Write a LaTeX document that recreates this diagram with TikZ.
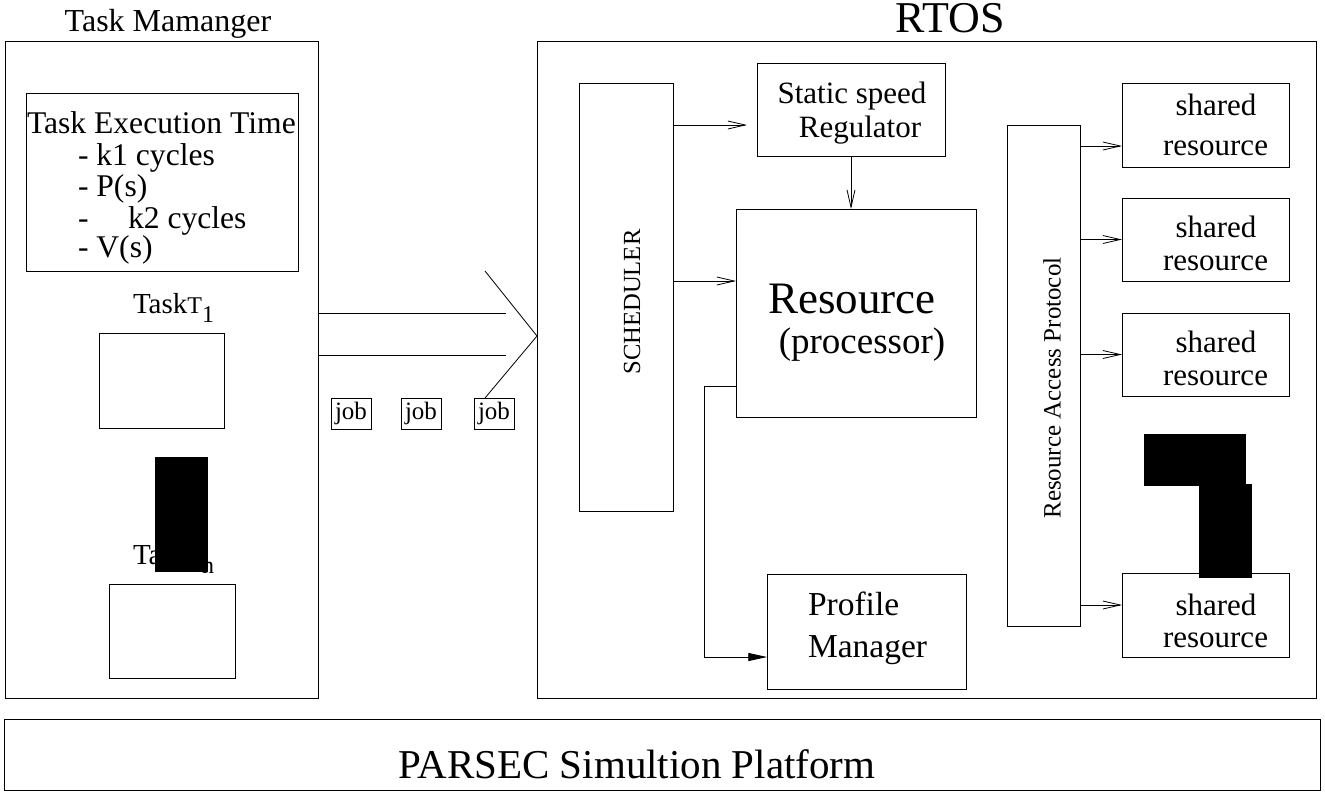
\documentclass[tikz,border=0pt]{standalone}
\usepackage{fontspec}
\setmainfont{Liberation Serif}
\usetikzlibrary{arrows.meta}
\newcommand\fpx[1]{\fontsize{\fpeval{#1*0.75}pt}{\fpeval{#1*0.9}pt}\selectfont}
\newcommand\bxn[6]{\node[box, minimum width={(#4-#2)*0.75pt}, minimum height={(#5-#3)*0.75pt}] (#1) at ({(#2+#4)/2},{(#3+#5)/2}) {#6};}
\tikzset{
  box/.style={draw, line width=0.6pt, inner sep=0pt, outer sep=0pt},
  lbl/.style={inner sep=0pt, outer sep=0pt, anchor=base},
  lblw/.style={inner sep=0pt, outer sep=0pt, anchor=base west},
  oa/.style={line width=0.6pt, -{Straight Barb[length=13pt,width=6pt,line width=0.6pt]}},
  fa/.style={line width=0.6pt, -{Triangle[length=14pt,width=6pt]}},
  ln/.style={line width=0.6pt},
  jobbox/.style={draw, line width=0.6pt, inner sep=0pt, outer sep=0pt, minimum width=30pt, minimum height=23.25pt, font=\fpx{25}}
}
\begin{document}
\begin{tikzpicture}[x=0.75pt, y=-0.75pt]
\useasboundingbox (0,0) rectangle (1325,794);
% titles
\node[lbl] (tmtitle) at (168,31) {\fpx{32}Task Mamanger};
\node[lbl] (rtostitle) at (950,32) {\fpx{44}RTOS};
% main boxes
\bxn{tm}{5}{41}{318}{698}{}
\bxn{rtos}{537}{41}{1316}{698}{}
\bxn{parsec}{4}{719}{1320}{790}{}
\node[lbl] (parsectext) at (637,778) {\fpx{41}PARSEC Simultion Platform};
% task manager content
\bxn{tet}{26}{93}{298}{271}{}
\node[lblw] (tet0) at (27,133) {\fpx{31.6}Task Execution Time};
\node[lblw] (tet1) at (78,165) {\fpx{31.6}- k1 cycles};
\node[lblw] (tet2) at (78,196) {\fpx{31.6}- P(s)};
\node[lblw] (tet3) at (78,228) {\fpx{31.6}-};
\node[lblw] (tet3b) at (128,228) {\fpx{31.6}k2 cycles};
\node[lblw] (tet4) at (78,257) {\fpx{31.6}- V(s)};
\node[lblw] (t1lab) at (133,313) {\fpx{29}Task\fpx{24}T\raisebox{-6.75pt}{\fpx{24}1}};
\bxn{t1}{99}{333}{224}{428}{}
\node[lblw] (tnlab) at (133,564) {\fpx{29}Task\fpx{24}T\raisebox{-6.75pt}{\fpx{24}n}};
\bxn{tn}{109}{584}{235}{678}{}
\bxn{blackA}{155}{457}{207}{571}{}
\fill[black] (blackA.south west) rectangle (blackA.north east);
% job flow
\coordinate (l1e) at (506,313);
\coordinate (l2e) at (506,355);
\draw[ln] (l1e -| tm.east) -- (l1e);
\draw[ln] (l2e -| tm.east) -- (l2e);
\node[jobbox] (job1) at (351,413.5) {job};
\node[jobbox] (job2) at (421,413.5) {job};
\node[jobbox] (job3) at (494,413.5) {job};
\coordinate (chA) at (485,271);
\coordinate (chB) at (537,336);
\coordinate (chC) at (485,398);
\draw[ln] (chA) -- (chB -| rtos.west) -- (chC);
% RTOS content
\bxn{sched}{579}{83}{673}{511}{}
\node[inner sep=0pt, rotate=90] (schedtext) at (632,302) {\fpx{24.6}SCHEDULER};
\bxn{reg}{757}{63}{945}{156}{}
\node[lbl] (reg1) at (852,103) {\fpx{31}Static speed};
\node[lbl] (reg2) at (860,137) {\fpx{31}Regulator};
\bxn{res}{736}{209}{976}{417}{}
\node[lbl] (res1) at (852,313) {\fpx{45}Resource};
\node[lbl] (res2) at (862,353) {\fpx{37}(processor)};
\bxn{pm}{767}{574}{966}{689}{}
\node[lblw] (pm1) at (808,615) {\fpx{33.5}Profile};
\node[lblw] (pm2) at (808,657) {\fpx{33.5}Manager};
\coordinate (srend) at (747,125);
\draw[oa] (srend -| sched.east) -- (srend);
\coordinate (resin) at (736,281);
\draw[oa] (resin -| sched.east) -- (resin);
\draw[oa] (reg.south) -- (reg.south |- res.north);
\coordinate (elb1) at (704,386);
\coordinate (elb2) at (704,657);
\draw[fa] (elb1 -| res.west) -- (elb1) -- (elb2) -- (elb2 -| pm.west);
% resource access protocol
\bxn{rap}{1007}{125}{1080}{626}{}
\node[inner sep=0pt, rotate=90] (raptext) at (1052,388) {\fpx{25}Resource Access Protocol};
\bxn{sr1}{1122}{83}{1289}{167}{}
\bxn{sr2}{1122}{198}{1289}{281}{}
\bxn{sr3}{1122}{313}{1289}{396}{}
\bxn{sr4}{1122}{573}{1289}{657}{}
\node[lbl] (sr1a) at (1216,115) {\fpx{31}shared};
\node[lbl] (sr1b) at (1215.5,155) {\fpx{31}resource};
\node[lbl] (sr2a) at (1216,237) {\fpx{31}shared};
\node[lbl] (sr2b) at (1215.5,270) {\fpx{31}resource};
\node[lbl] (sr3a) at (1216,352) {\fpx{31}shared};
\node[lbl] (sr3b) at (1215.5,385) {\fpx{31}resource};
\node[lbl] (sr4a) at (1216,615) {\fpx{31}shared};
\node[lbl] (sr4b) at (1215.5,647) {\fpx{31}resource};
\coordinate (ra1) at (1122,146);
\coordinate (ra4) at (1122,605);
\draw[oa] (ra1 -| rap.east) -- (ra1);
\draw[oa] (sr2.west -| rap.east) -- (sr2.west);
\draw[oa] (sr3.west -| rap.east) -- (sr3.west);
\draw[oa] (ra4 -| rap.east) -- (ra4);
\bxn{blackB}{1144}{434}{1245}{485}{}
\fill[black] (blackB.south west) rectangle (blackB.north east);
\bxn{blackC}{1199}{484}{1251}{577}{}
\fill[black] (blackC.south west) rectangle (blackC.north east);
\end{tikzpicture}
\end{document}
